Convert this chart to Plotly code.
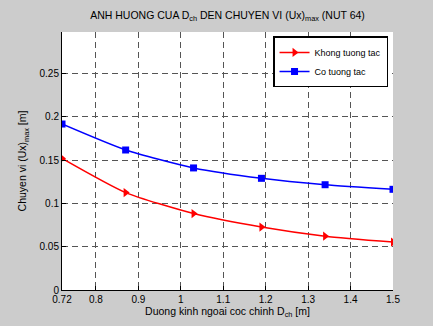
import plotly.graph_objects as go

x_vals = [0.72, 0.87, 1.03, 1.19, 1.34, 1.5]
khong_tuong_tac = [0.152, 0.1125, 0.0883, 0.0727, 0.0621, 0.0553]
co_tuong_tac = [0.1917, 0.1617, 0.141, 0.129, 0.1216, 0.1163]
x_ticks = [0.72, 0.8, 0.9, 1.0, 1.1, 1.2, 1.3, 1.4, 1.5]
x_tick_text = ["0.72", "0.8", "0.9", "1", "1.1", "1.2", "1.3", "1.4", "1.5"]
y_ticks = [0, 0.05, 0.1, 0.15, 0.2, 0.25]
y_tick_text = ["0", "0.05", "0.1", "0.15", "0.2", "0.25"]

fig = go.Figure()
fig.add_trace(go.Scatter(x=x_vals, y=khong_tuong_tac, mode="lines+markers",
                         name="Khong tuong tac", line=dict(color="#ff0000", width=1.5, shape="spline", smoothing=0.6),
                         marker=dict(symbol="triangle-right", size=8, color="#ff0000")))
fig.add_trace(go.Scatter(x=x_vals, y=co_tuong_tac, mode="lines+markers",
                         name="Co tuong tac", line=dict(color="#0000ff", width=1.5, shape="spline", smoothing=0.6),
                         marker=dict(symbol="square", size=7, color="#0000ff")))

font = "Liberation Sans, Arial, sans-serif"
fig.update_layout(
    width=433, height=326,
    margin=dict(l=62, r=40, t=32, b=34),
    paper_bgcolor="#cccccc", plot_bgcolor="white",
    font=dict(family=font, size=10, color="black"),
    title=dict(text="ANH HUONG CUA D<sub>ch</sub> DEN CHUYEN VI (Ux)<sub>max</sub> (NUT 64)",
               x=(62 + 393) / 2 / 433, xanchor="center", y=1 - 15 / 326, yanchor="middle",
               font=dict(size=10.5)),
    showlegend=True,
    legend=dict(x=0.985, y=0.983, xanchor="right", yanchor="top",
                bgcolor="white", bordercolor="black", borderwidth=1.5,
                font=dict(size=9), tracegroupgap=0, itemwidth=30,
                traceorder="normal"),
    xaxis=dict(range=[0.72, 1.5], tickvals=x_ticks, ticktext=x_tick_text,
               showline=True, linecolor="black", linewidth=1, mirror=False,
               ticks="inside", ticklen=4, tickcolor="black",
               showgrid=True, gridcolor="#555555", griddash="6px,4px", gridwidth=1,
               zeroline=False,
               title=dict(text="Duong kinh ngoai coc chinh D<sub>ch</sub> [m]", standoff=2, font=dict(size=10.5))),
    yaxis=dict(range=[0, 0.298], tickvals=y_ticks, ticktext=y_tick_text,
               showline=True, linecolor="black", linewidth=1, mirror=False,
               ticks="inside", ticklen=4, tickcolor="black",
               showgrid=True, gridcolor="#555555", griddash="6px,4px", gridwidth=1,
               zeroline=False,
               title=dict(text="Chuyen vi (Ux)<sub>max</sub> [m]", standoff=10, font=dict(size=10.5))),
)
fig.write_html("out.html")
